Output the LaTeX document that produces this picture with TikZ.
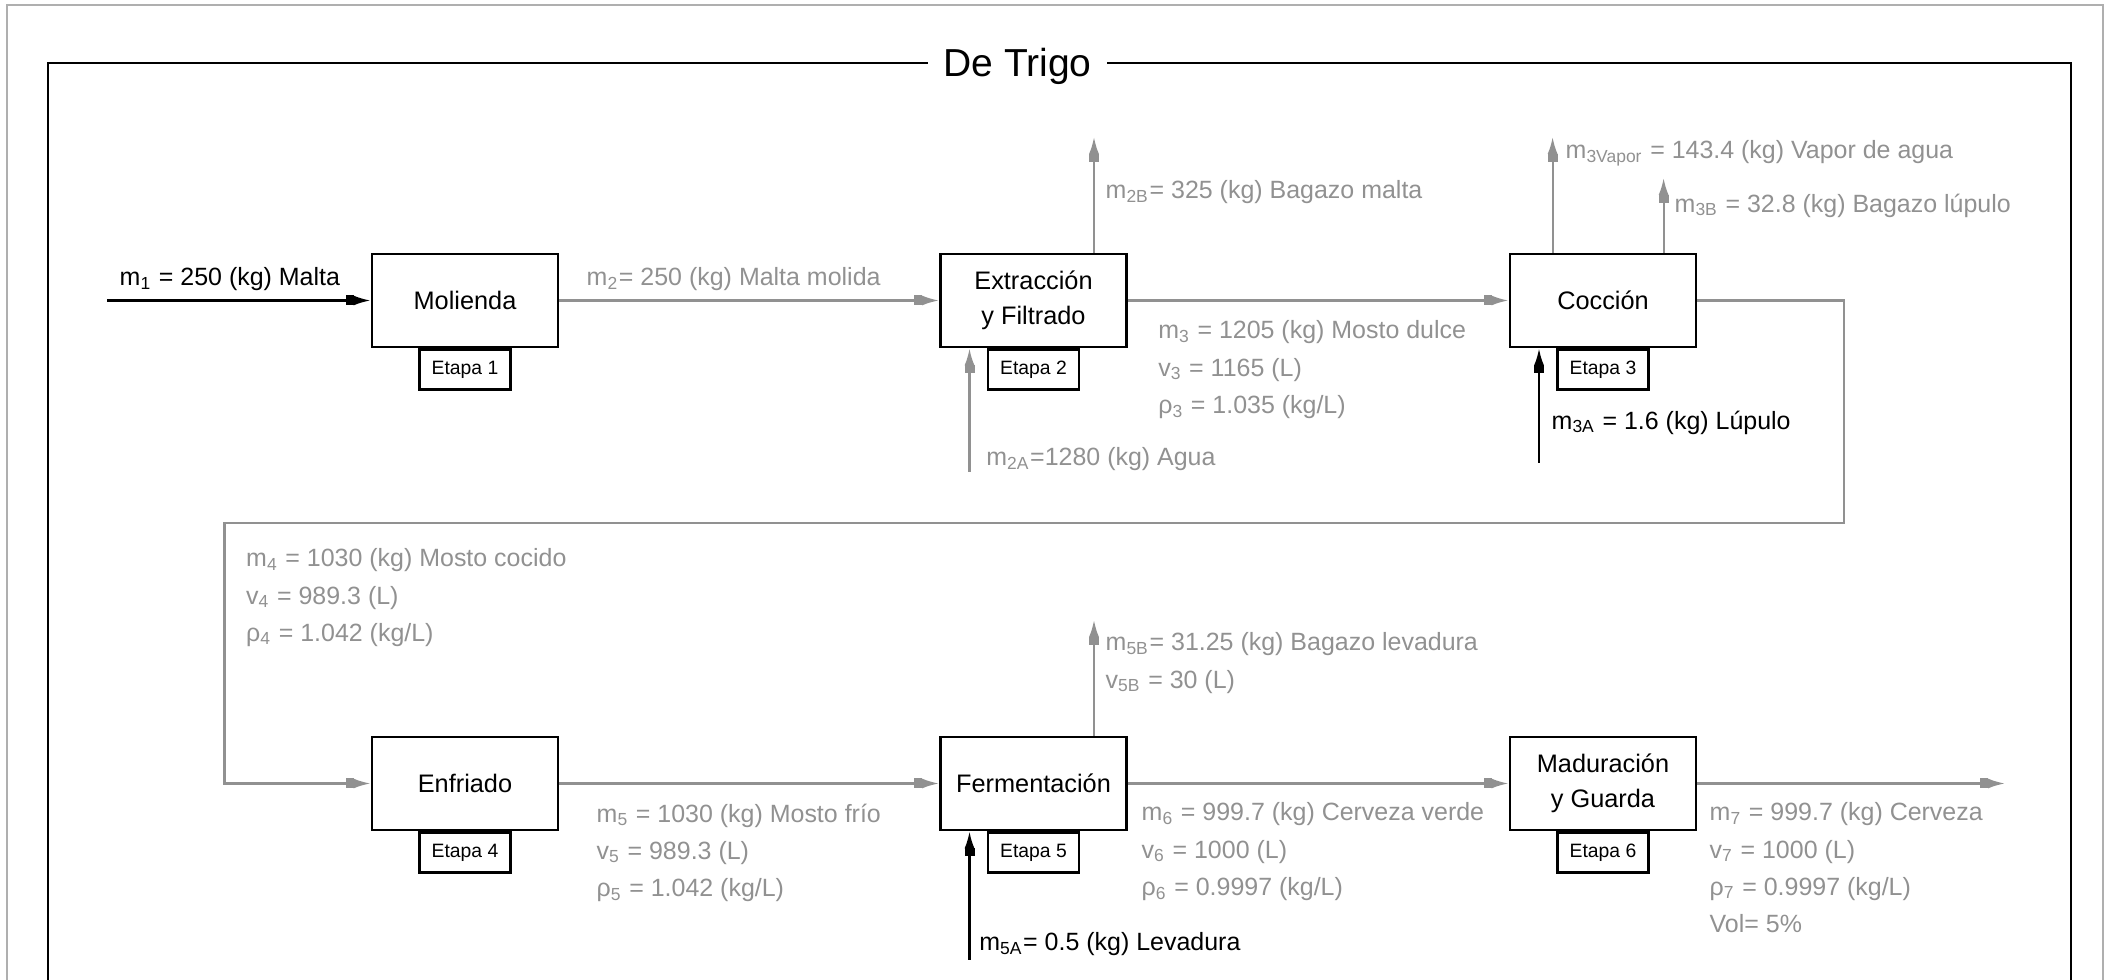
\documentclass[tikz,border=0pt]{standalone}
\usepackage{fontspec}
\setmainfont{Liberation Sans}
\usetikzlibrary{arrows.meta, positioning}
\definecolor{flowgray}{RGB}{145,145,145}
\definecolor{framegray}{RGB}{175,175,175}
\tikzset{
    % Process stage - black box
    stage/.style={rectangle, draw=black, line width=0.8pt, fill=white, minimum width=1.86cm, minimum height=0.93cm, inner sep=0pt, align=center, font=\fontsize{7.2}{10}\selectfont},
    % Stage number tag under each box
    stage tag/.style={rectangle, draw=black, line width=0.6pt, fill=white, minimum width=0.91cm, minimum height=0.40cm, inner sep=0pt, font=\fontsize{5.5}{6}\selectfont},
    % Internal stream - gray arrow
    gray flow/.style={draw=flowgray, line width=0.6pt, -{Rectangle[length=0.8mm,width=1mm] Latex[length=1.7mm,width=1mm]}},
    % Feed stream - black arrow
    black flow/.style={draw=black, line width=0.6pt, -{Rectangle[length=0.8mm,width=1mm] Latex[length=1.7mm,width=1mm]}},
    % Stream labels
    gray label/.style={text=flowgray, anchor=north west, inner sep=0pt, align=left, font=\fontsize{7.1}{10.6}\selectfont},
    black label/.style={gray label, text=black}
}

\begin{document}
\begin{tikzpicture}[x=0.01cm, y=-0.01cm]
    \useasboundingbox (0,0) rectangle (2105,980);

    % --- Frames ---
    \draw[framegray, line width=0.6pt] (7,990) -- (7,5) -- (2103,5) -- (2103,990);
    \draw[black, line width=0.6pt] (47.7,990) -- (47.7,63) -- (2071,63) -- (2071,990);
    \node[fill=white, inner xsep=0.15cm, inner ysep=2pt, anchor=base, font=\fontsize{11.1}{13}\selectfont] (title) at (1017.5,77) {De Trigo};

    % --- Stages ---
    \node[stage] (molienda) at (465,300.5) {Molienda};
    \node[stage] (extraccion) at (1033.5,300.5) {Extracción\\y Filtrado};
    \node[stage] (coccion) at (1603,300.5) {Cocción};
    \node[stage] (enfriado) at (465,783.5) {Enfriado};
    \node[stage] (fermentacion) at (1033.5,783.5) {Fermentación};
    \node[stage] (maduracion) at (1603,783.5) {Maduración\\y Guarda};

    \node[stage tag, below=0pt of molienda] (etapa1) {Etapa 1};
    \node[stage tag, below=0pt of extraccion] (etapa2) {Etapa 2};
    \node[stage tag, below=0pt of coccion] (etapa3) {Etapa 3};
    \node[stage tag, below=0pt of enfriado] (etapa4) {Etapa 4};
    \node[stage tag, below=0pt of fermentacion] (etapa5) {Etapa 5};
    \node[stage tag, below=0pt of maduracion] (etapa6) {Etapa 6};

    % --- Free stream ends ---
    \coordinate (in1) at (107,300.5);
    \coordinate (out2B) at (1094,137);
    \coordinate (in2A) at (969.5,472);
    \coordinate (out3V) at (1552.6,137);
    \coordinate (out3B) at (1663.6,178);
    \coordinate (in3A) at (1539,463);
    \coordinate (loopR) at (1844,523);
    \coordinate (loopL) at (224.5,523);
    \coordinate (out5B) at (1094,620);
    \coordinate (in5A) at (969.5,960);
    \coordinate (out7) at (2005,783.5);

    % --- Streams ---
    \draw[black flow] (in1) -- (molienda);
    \draw[gray flow] (molienda) -- (extraccion);
    \draw[gray flow] (extraccion.north -| out2B) -- (out2B);
    \draw[gray flow] (in2A) -- (in2A |- extraccion.south);
    \draw[gray flow] (extraccion) -- (coccion);
    \draw[gray flow] (coccion.north -| out3V) -- (out3V);
    \draw[gray flow] (coccion.north -| out3B) -- (out3B);
    \draw[black flow] (in3A) -- (in3A |- coccion.south);
    \draw[gray flow] (coccion.east) -| (loopR) -- (loopL) |- (enfriado.west);
    \draw[gray flow] (enfriado) -- (fermentacion);
    \draw[gray flow] (fermentacion.north -| out5B) -- (out5B);
    \draw[black flow] (in5A) -- (in5A |- fermentacion.south);
    \draw[gray flow] (fermentacion) -- (maduracion);
    \draw[gray flow] (maduracion.east) -- (out7);

    % --- Stream labels ---
    \node[black label] (l1) at (119,267) {m\textsubscript{1} = 250 (kg) Malta};
    \node[gray label] (l2) at (586,267) {m\textsubscript{2}= 250 (kg) Malta molida};
    \node[gray label] (l2B) at (1105,180) {m\textsubscript{2B}= 325 (kg) Bagazo malta};
    \node[gray label] (l2A) at (985.6,447) {m\textsubscript{2A}=1280 (kg) Agua};
    \node[gray label] (l3) at (1157.6,320) {m\textsubscript{3} = 1205 (kg) Mosto dulce\\v\textsubscript{3} = 1165 (L)\\ρ\textsubscript{3} = 1.035 (kg/L)};
    \node[gray label] (l3V) at (1565,140) {m\textsubscript{3Vapor} = 143.4 (kg) Vapor de agua};
    \node[gray label] (l3B) at (1674,193) {m\textsubscript{3B} = 32.8 (kg) Bagazo lúpulo};
    \node[black label] (l3A) at (1551,410) {m\textsubscript{3A} = 1.6 (kg) Lúpulo};
    \node[gray label] (l4) at (245.5,548) {m\textsubscript{4} = 1030 (kg) Mosto cocido\\v\textsubscript{4} = 989.3 (L)\\ρ\textsubscript{4} = 1.042 (kg/L)};
    \node[gray label] (l5) at (596,803) {m\textsubscript{5} = 1030 (kg) Mosto frío\\v\textsubscript{5} = 989.3 (L)\\ρ\textsubscript{5} = 1.042 (kg/L)};
    \node[gray label] (l5B) at (1105,632) {m\textsubscript{5B}= 31.25 (kg) Bagazo levadura\\v\textsubscript{5B} = 30 (L)};
    \node[black label] (l5A) at (978.6,932) {m\textsubscript{5A}= 0.5 (kg) Levadura};
    \node[gray label] (l6) at (1141,802) {m\textsubscript{6} = 999.7 (kg) Cerveza verde\\v\textsubscript{6} = 1000 (L)\\ρ\textsubscript{6} = 0.9997 (kg/L)};
    \node[gray label] (l7) at (1709,802) {m\textsubscript{7} = 999.7 (kg) Cerveza\\v\textsubscript{7} = 1000 (L)\\ρ\textsubscript{7} = 0.9997 (kg/L)\\Vol= 5\%};

\end{tikzpicture}
\end{document}
